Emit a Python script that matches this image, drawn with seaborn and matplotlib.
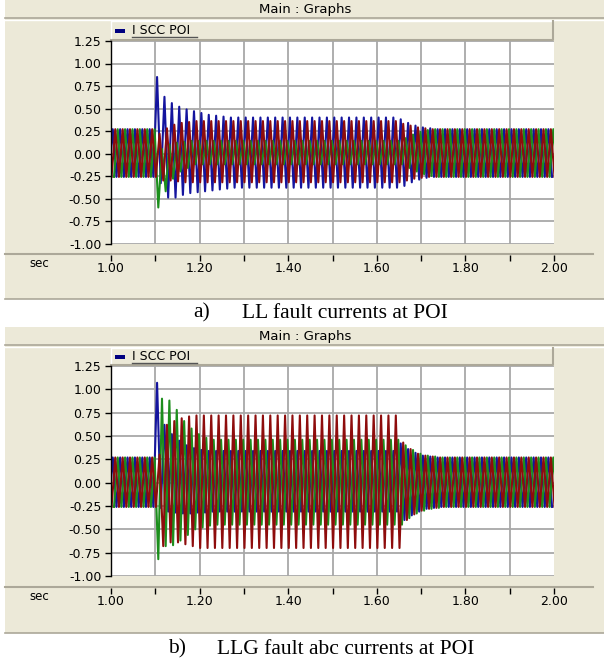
import numpy as np
import matplotlib
matplotlib.use("Agg")
import matplotlib.pyplot as plt
from matplotlib.patches import Rectangle
import seaborn as sns

W, H = 604, 661

# 60 Hz currents, one positive / negative peak per cycle, 1.00 .. 2.00 s
FREQ = 60.0
T_START = 1.0
shift_blue, shift_red, shift_green = 0.004, 0.0096, 0.0151

# a) LL fault
a_blue_hi = [0.27] * 6 + [0.85, 0.63, 0.56, 0.52, 0.49, 0.47, 0.45, 0.43, 0.42, 0.41] + [0.40] * 23 + [0.38, 0.34, 0.31, 0.29, 0.28] + [0.27] * 16
a_blue_lo = [-0.26] * 6 + [-0.33, -0.49, -0.49, -0.46, -0.44, -0.43, -0.42, -0.41, -0.40, -0.39] + [-0.38] * 23 + [-0.36, -0.32, -0.29, -0.27, -0.26] + [-0.26] * 16
a_red_hi = [0.27] * 6 + [0.22, 0.28, 0.32, 0.34, 0.35] + [0.36] * 28 + [0.33, 0.31, 0.29, 0.28, 0.27] + [0.27] * 16
a_red_lo = [-0.26] * 6 + [-0.30, -0.30, -0.31, -0.32, -0.32] + [-0.32] * 28 + [-0.30, -0.28, -0.27, -0.26, -0.26] + [-0.26] * 16
a_green_hi = [0.27] * 6 + [0.05, 0.10, 0.12, 0.13] + [0.14] * 29 + [0.17, 0.21, 0.24, 0.26, 0.27] + [0.27] * 16
a_green_lo = [-0.26] * 5 + [-0.60] + [-0.42, -0.28, -0.20, -0.16] + [-0.12] * 29 + [-0.16, -0.20, -0.23, -0.25, -0.26] + [-0.26] * 16

# b) LLG fault
b_blue_hi = [0.27] * 6 + [1.07, 0.62, 0.52, 0.45, 0.40, 0.37, 0.35] + [0.34] * 26 + [0.42, 0.36, 0.32, 0.29, 0.28] + [0.27] * 16
b_blue_lo = [-0.26] * 6 + [-0.27, -0.31, -0.32, -0.33, -0.33, -0.32, -0.32] + [-0.31] * 26 + [-0.40, -0.35, -0.31, -0.28, -0.27] + [-0.26] * 16
b_red_hi = [0.27] * 6 + [0.30, 0.62, 0.66, 0.69, 0.71] + [0.72] * 28 + [0.43, 0.36, 0.31, 0.29, 0.28] + [0.27] * 16
b_red_lo = [-0.26] * 6 + [-0.68, -0.64, -0.64, -0.66, -0.68] + [-0.70] * 28 + [-0.40, -0.34, -0.30, -0.28, -0.27] + [-0.26] * 16
b_green_hi = [0.27] * 6 + [0.90, 0.88, 0.78, 0.66, 0.58, 0.52, 0.48] + [0.46] * 26 + [0.40, 0.35, 0.31, 0.29, 0.28] + [0.27] * 16
b_green_lo = [-0.26] * 5 + [-0.82] + [-0.68, -0.67, -0.62, -0.56, -0.50, -0.48, -0.46] + [-0.45] * 26 + [-0.38, -0.33, -0.30, -0.28, -0.27] + [-0.26] * 16

y_ticks = [1.25, 1.00, 0.75, 0.50, 0.25, 0.00, -0.25, -0.50, -0.75, -1.00]
x_labels = [1.00, 1.20, 1.40, 1.60, 1.80, 2.00]
x_minor = [1.10, 1.30, 1.50, 1.70, 1.90]
x_grid = [1.1, 1.2, 1.3, 1.4, 1.5, 1.6, 1.7, 1.8, 1.9]

captions = [("a)", "LL fault currents at POI"), ("b)", "LLG fault abc currents at POI")]
legend_label = "I SCC POI"

BEIGE = "#ECE9D8"
EDGE = "#ACA899"
C_BLUE, C_RED, C_GREEN = "#14149E", "#8E0C0C", "#1C8E1C"

plt.rcParams["axes.unicode_minus"] = False
plt.rcParams["font.family"] = ["DejaVu Sans"]


def wave(hi, lo, shift):
    t = [T_START + shift - 0.5 / FREQ]
    v = [lo[0]]
    for k, (h, l) in enumerate(zip(hi, lo)):
        t0 = T_START + k / FREQ + shift
        t += [t0, t0 + 0.5 / FREQ]
        v += [h, l]
    return np.array(t), np.array(v)


def box(x0, y0, x1, y1):
    return [x0 / W, 1 - y1 / H, (x1 - x0) / W, (y1 - y0) / H]


fig = plt.figure(figsize=(W / 100, H / 100), dpi=100)
bg = fig.add_axes([0, 0, 1, 1])
bg.set_xlim(0, W)
bg.set_ylim(H, 0)
bg.axis("off")

panels = [
    dict(top=0, bottom=299, p0=41, p1=243.5, axis_y=254, cap_y=313, cap_x=(193, 242),
         data=[(a_blue_hi, a_blue_lo, shift_blue, C_BLUE),
               (a_green_hi, a_green_lo, shift_green, C_GREEN),
               (a_red_hi, a_red_lo, shift_red, C_RED)]),
    dict(top=327, bottom=633, p0=366, p1=576, axis_y=587, cap_y=649, cap_x=(168, 217),
         data=[(b_blue_hi, b_blue_lo, shift_blue, C_BLUE),
               (b_green_hi, b_green_lo, shift_green, C_GREEN),
               (b_red_hi, b_red_lo, shift_red, C_RED)]),
]

X0, X1 = 111, 554

for i, p in enumerate(panels):
    top = p["top"]
    # window background and title bar
    bg.add_patch(Rectangle((5, top), W - 5, p["bottom"] - top, facecolor=BEIGE, edgecolor="none"))
    bg.plot([5, W], [top + 18, top + 18], color=EDGE, lw=1.2)
    bg.plot([5, W], [top + 19.5, top + 19.5], color="white", lw=1.0)
    bg.text(305, top + 9.5, "Main : Graphs", ha="center", va="center", fontsize=9.5, color="black")
    # legend strip
    ly0, ly1 = top + 21, p["p0"] - 1
    bg.plot([X0, X0, 553], [ly1, ly0, ly0], color="white", lw=1.0)
    bg.plot([X0, 553, 553], [ly1, ly1, ly0], color=EDGE, lw=1.5)
    lm = (ly0 + ly1) / 2
    bg.add_patch(Rectangle((115, lm - 2), 10, 4, facecolor="#000080", edgecolor="none"))
    bg.text(132, lm, legend_label, ha="left", va="center", fontsize=9, color="black")
    bg.plot([132, 197], [lm + 6.5, lm + 6.5], color="#555555", lw=1.0)
    # x axis strip
    bg.plot([5, 593], [p["axis_y"], p["axis_y"]], color=EDGE, lw=1.5)
    bg.text(39, p["axis_y"] + 9.5, "sec", ha="center", va="center", fontsize=8.5, color="black")
    bg.plot([5, W], [p["bottom"], p["bottom"]], color=EDGE, lw=1.2)
    # caption
    bg.text(p["cap_x"][0], p["cap_y"], captions[i][0], ha="left", va="center",
            fontsize=15.5, family="Liberation Serif")
    bg.text(p["cap_x"][1], p["cap_y"], captions[i][1], ha="left", va="center",
            fontsize=15.5, family="Liberation Serif")

    # plot area
    ax = fig.add_axes(box(X0, p["p0"], X1, p["p1"]))
    ax.set_facecolor("white")
    for hi, lo, sh, col in p["data"]:
        t, v = wave(hi, lo, sh)
        sns.lineplot(x=t, y=v, ax=ax, color=col, lw=1.5, estimator=None, sort=False)
    ax.set_xlim(1.0, 2.0)
    ax.set_ylim(-1.0, 1.25)
    ax.set_xticks(x_grid)
    ax.tick_params(axis="x", length=0, labelbottom=False)
    ax.set_yticks(y_ticks)
    ax.set_yticklabels([f"{v:.2f}" for v in y_ticks])
    ax.tick_params(axis="y", direction="out", length=4, width=1, pad=3, labelsize=9, colors="black")
    ax.grid(True, color="#A8A8A8", lw=1.3)
    ax.set_axisbelow(True)
    for s in ["top", "right", "bottom"]:
        ax.spines[s].set_visible(False)
    ax.spines["left"].set_color("black")
    ax.spines["left"].set_linewidth(1.0)
    ax.set_xlabel("")
    ax.set_ylabel("")

    # time axis below
    axx = fig.add_axes(box(X0, p["axis_y"], X1, p["axis_y"] + 0.5))
    axx.set_xlim(1.0, 2.0)
    axx.set_yticks([])
    for s in axx.spines.values():
        s.set_visible(False)
    axx.patch.set_alpha(0)
    axx.set_xticks(x_labels)
    axx.set_xticklabels([f"{v:.2f}" for v in x_labels])
    axx.set_xticks(x_minor, minor=True)
    axx.tick_params(axis="x", which="both", direction="out", length=4, width=1, pad=1.5,
                    labelsize=9, colors="black")

fig.savefig("out.png", dpi=100, facecolor="white")
